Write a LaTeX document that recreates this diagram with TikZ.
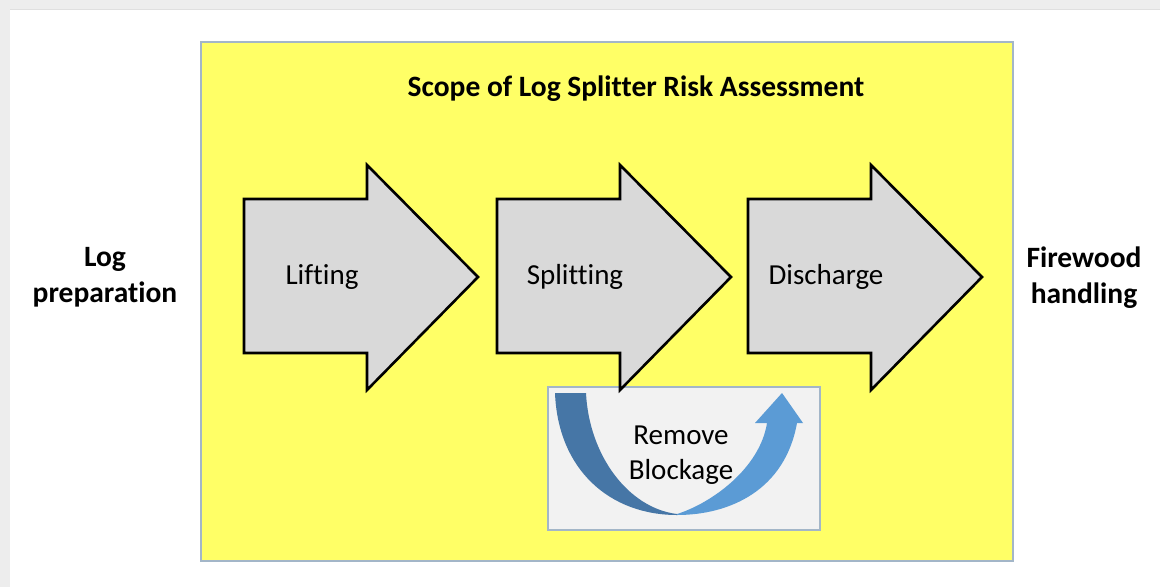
\documentclass[tikz,border=0pt]{standalone}
\usepackage{fontspec}
\setmainfont{Carlito}[Ligatures=CommonOff]
\definecolor{scopeyellow}{HTML}{FFFF66}
\definecolor{scopeedge}{HTML}{A3B6C8}
\definecolor{stepgray}{HTML}{D9D9D9}
\definecolor{boxgray}{HTML}{F2F2F2}
\definecolor{darkblue}{HTML}{4676A6}
\definecolor{lightblue}{HTML}{5B9BD5}
\definecolor{framegray}{HTML}{EDEDED}
\tikzset{
  bigarrow/.style={draw=black,line width=2.6pt,fill=stepgray,line join=miter},
  lbl/.style={font=\fontsize{29}{35}\selectfont,align=center,inner sep=0pt},
  boldlbl/.style={lbl,font=\fontsize{29.5}{36}\selectfont\bfseries}
}
\begin{document}
\begin{tikzpicture}[x=1pt,y=-1pt]
\useasboundingbox (0,0) rectangle (1160,587);
% screenshot frame
\fill[white] (0,0) rectangle (1160,587);
\fill[framegray] (0,0) rectangle (1160,9);
\fill[framegray] (0,0) rectangle (10,587);
\draw[gray!25,line width=1pt] (10,9.5) -- (1160,9.5);
% scope area
\draw[scopeedge,fill=scopeyellow,line width=2pt] (201,42) rectangle (1013,561);
\node[boldlbl] (title) at (636,89) {Scope of Log Splitter Risk Assessment};
\node[boldlbl] (logprep) at (105,277) {Log\\preparation};
\node[boldlbl] (firewood) at (1084,278) {Firewood\\handling};
% remove blockage
\draw[scopeedge,fill=boxgray,line width=1.5pt] (548,387) rectangle (820,530);
\fill[darkblue] (555,393) -- (586,393) .. controls (589,455) and (628,508) .. (677,514)
  -- (677,515) .. controls (610,515) and (558,470) .. (555,393) -- cycle;
\fill[lightblue] (677,514) .. controls (712,503) and (760,468) .. (767,423)
  -- (755,423) -- (782,393) -- (803,423) -- (797,423)
  .. controls (785,490) and (730,515) .. (677,515) -- cycle;
\node[lbl] (remove) at (681,455) {Remove\\Blockage};
% process steps
\foreach \x/\name/\txt in {244/lift/Lifting, 497/split/Splitting, 748/disch/Discharge}{
  \draw[bigarrow] (\x,199) -- (\x+123,199) -- (\x+123,165) -- (\x+234,277)
    -- (\x+123,390) -- (\x+123,353) -- (\x,353) -- cycle;
  \node[lbl] (\name) at (\x+78,277) {\txt};
}
\end{tikzpicture}
\end{document}
